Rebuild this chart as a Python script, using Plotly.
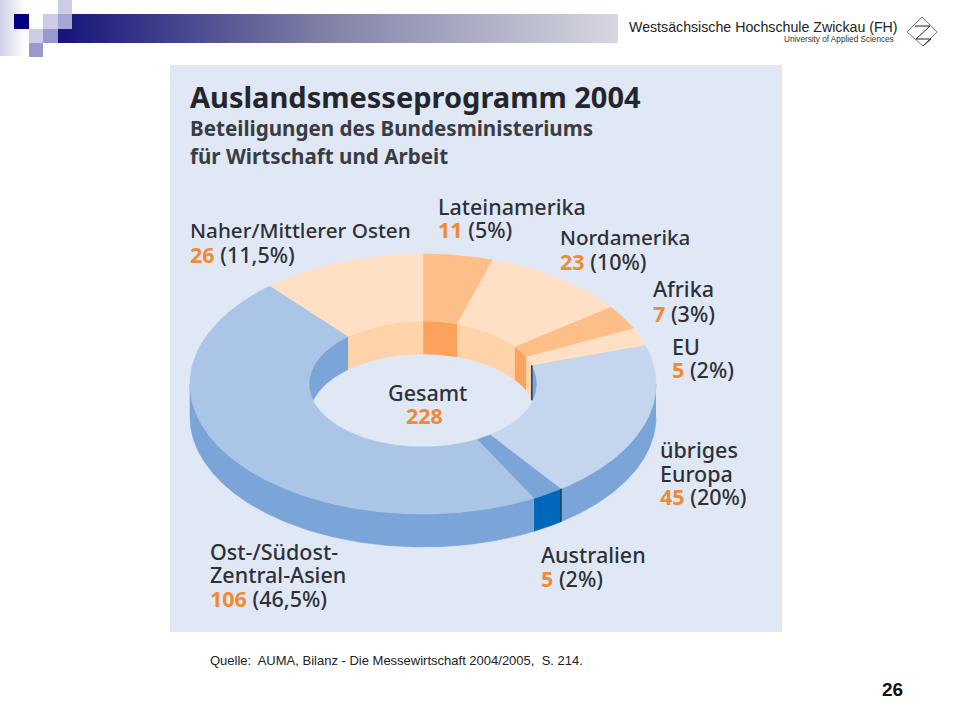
import numpy as np
import plotly.graph_objects as go

# ---- data ----
categories = ["Lateinamerika", "Nordamerika", "Afrika", "EU", "übriges Europa",
              "Australien", "Ost-/Südost-Zentral-Asien", "Naher/Mittlerer Osten"]
values = [11, 23, 7, 5, 45, 5, 106, 26]
percents = ["5%", "10%", "3%", "2%", "20%", "2%", "46,5%", "11,5%"]
total = 228
top_colors = ["#FDBE88", "#FFE0C4", "#FDBE88", "#FFE0C4", "#C5D5EE", "#7BA5D8", "#ABC5E6", "#FFE0C4"]
wall_colors = ["#FBA25C", "#FFD3AA", "#FBA25C", "#FFD3AA", "#7BA5D8", "#0068B8", "#7BA5D8", "#FFD3AA"]

# ---- geometry of the drawing ----
CX, CY, RX, RY = 423, 384, 233, 130
IRX, IRY = 114, 63
DEPTH = 33
PANEL = "#E0E8F5"
DARK = "#2E3038"
ORANGE = "#EF8A35"
FONT = "Noto Sans"

fig = go.Figure()


def poly(x, y, color, lw=0.6, name=None):
    fig.add_trace(go.Scatter(x=x, y=y, mode="lines", fill="toself", fillcolor=color,
                             line=dict(color=color, width=lw), hoverinfo="skip",
                             showlegend=False, name=name))


def arc(rx, ry, a0, a1, dy=0):
    t = np.radians(np.linspace(a0, a1, max(int(abs(a1 - a0)) * 2, 2) + 1))
    return CX + rx * np.sin(t), CY + dy - ry * np.cos(t)


angles = np.cumsum([0] + values) / sum(values) * 360

# outer side wall (front half only)
for i, name in enumerate(categories):
    a0, a1 = max(angles[i], 90), min(angles[i + 1], 270)
    if a1 > a0:
        x0, y0 = arc(RX, RY, a0, a1)
        x1, y1 = arc(RX, RY, a1, a0, DEPTH)
        poly(np.r_[x0, x1], np.r_[y0, y1], wall_colors[i], name=name)

# inner wall (far half of the hole only)
for i, name in enumerate(categories):
    for lo, hi in ((0, 90), (270, 360)):
        a0, a1 = max(angles[i], lo), min(angles[i + 1], hi)
        if a1 > a0:
            x0, y0 = arc(IRX, IRY, a0, a1)
            x1, y1 = arc(IRX, IRY, a1, a0, DEPTH)
            poly(np.r_[x0, x1], np.r_[y0, y1], wall_colors[i], name=name)

# top face
for i, name in enumerate(categories):
    x0, y0 = arc(RX, RY, angles[i], angles[i + 1])
    x1, y1 = arc(IRX, IRY, angles[i + 1], angles[i])
    poly(np.r_[x0, x1], np.r_[y0, y1], top_colors[i], name=name)

# dark seams at the start of "übriges Europa" wall / end of it on the outer wall
edge = np.radians(angles[5])
ex, ey = CX + RX * np.sin(edge), CY - RY * np.cos(edge)
fig.add_trace(go.Scatter(x=[ex, ex], y=[ey, ey + DEPTH], mode="lines",
                         line=dict(color="#1F3A55", width=1.5), hoverinfo="skip", showlegend=False))
edge = np.radians(angles[4])
ex, ey = CX + IRX * np.sin(edge), CY - IRY * np.cos(edge)
fig.add_trace(go.Scatter(x=[ex, ex], y=[ey, ey + DEPTH + 2], mode="lines",
                         line=dict(color="#1F3A55", width=1.5), hoverinfo="skip", showlegend=False))

# header gradient bar
fig.add_trace(go.Scatter(x=[58, 618, 618, 58, 58], y=[14, 14, 43, 43, 14], mode="lines", fill="toself",
                         line=dict(width=0), hoverinfo="skip", showlegend=False,
                         fillgradient=dict(type="horizontal",
                                           colorscale=[[0, "#14147A"], [0.47, "#7F7FA6"], [1, "#D6D7E0"]])))
# left fade
fig.add_trace(go.Scatter(x=[0, 26, 26, 0, 0], y=[0, 0, 56, 56, 0], mode="lines", fill="toself",
                         line=dict(width=0), hoverinfo="skip", showlegend=False,
                         fillgradient=dict(type="horizontal",
                                           colorscale=[[0, "#CFD1E8"], [1, "#FFFFFF"]])))


def rect(x0, y0, x1, y1, color, layer="below"):
    return dict(type="rect", x0=x0, y0=y0, x1=x1, y1=y1, fillcolor=color,
                line=dict(width=0), layer=layer, xref="x", yref="y")


shapes = [
    rect(170, 65, 782, 632, PANEL),
    rect(14, 14, 29, 29, "#000080", "above"),
    rect(43, 14, 58, 29, "#CCCCE6", "above"),
    rect(58, 0, 72, 14, "#CCCCE6", "above"),
    rect(58, 14, 72, 29, "#A6A6D2", "above"),
    rect(29, 29, 43, 43, "#CCCCE6", "above"),
    rect(43, 29, 58, 43, "#9999CC", "above"),
    rect(29, 43, 43, 57, "#9999CC", "above"),
    dict(type="path", path="M 922 17 L 937 32 L 923 46 L 907 32 Z",
         line=dict(color="#777777", width=1), xref="x", yref="y"),
    dict(type="path", path="M 915 26 L 930 26 L 916 39 L 931 39 L 923 46",
         line=dict(color="#222222", width=1), xref="x", yref="y"),
]

ann = []


def text(x, y, s, size, color=DARK, bold=False, anchor="left", family=FONT, weight=None):
    font = dict(family=family, size=size, color=color)
    if weight:
        font["weight"] = weight
    # annotations keep a 2 px inner padding
    px = x - 2 if anchor == "left" else x + 2 if anchor == "right" else x
    ann.append(dict(x=px, y=y, xref="x", yref="y", text=f"<b>{s}</b>" if bold else s, showarrow=False,
                    xanchor=anchor, yanchor="middle", align=anchor, font=font))


def val(i):
    return (f'<span style="color:{ORANGE}"><b>{values[i]}</b></span> '
            f'<span style="color:{DARK}">({percents[i]})</span>')


LS = 21.5
W = 500
text(190, 96, "Auslandsmesseprogramm 2004", 29, "#25252C", True)
text(190, 128, "Beteiligungen des Bundesministeriums", 20.6, "#3A3C44", True)
text(190, 156, "für Wirtschaft und Arbeit", 20.6, "#3A3C44", True)

text(190, 230, categories[7], 20.7, weight=W)
text(190, 254, val(7), LS, weight=W)
text(438, 206, categories[0], LS, weight=W)
text(438, 229, val(0), LS, weight=W)
text(560, 237, categories[1], 20.6, weight=W)
text(560, 261, val(1), LS, weight=W)
text(653, 288, categories[2], LS, weight=W)
text(653, 313, val(2), LS, weight=W)
text(672, 346, categories[3], LS, weight=W)
text(672, 369, val(3), LS, weight=W)
text(660, 449, "übriges", LS, weight=W)
text(660, 473, "Europa", LS, weight=W)
text(660, 496, val(4), LS, weight=W)
text(541, 554, categories[5], LS, weight=W)
text(541, 578, val(5), LS, weight=W)
text(210, 551, "Ost-/Südost-", LS, weight=W)
text(210, 574, "Zentral-Asien", LS, weight=W)
text(210, 598, val(6), LS, weight=W)
text(427, 392, "Gesamt", LS, anchor="center", weight=W)
text(424, 415, str(total), LS, ORANGE, True, anchor="center")

text(210, 660, "Quelle:  AUMA, Bilanz - Die Messewirtschaft 2004/2005,  S. 214.", 13, "#222222", family="Liberation Sans")
text(892, 689, "26", 19, "#111111", True, anchor="center", family="Liberation Sans")
text(629, 27, "Westsächsische Hochschule Zwickau (FH)", 14.2, "#222222", family="Liberation Sans")
text(894, 39, "University of Applied Sciences", 8.2, "#333333", anchor="right", family="Liberation Sans")

fig.update_layout(
    width=960, height=720, margin=dict(l=0, r=0, t=0, b=0),
    paper_bgcolor="white", plot_bgcolor="white", showlegend=False,
    xaxis=dict(range=[0, 960], visible=False, fixedrange=True),
    yaxis=dict(range=[720, 0], visible=False, fixedrange=True),
    shapes=shapes, annotations=ann,
)
fig.write_html("out.html", config={"displayModeBar": False},
               post_script="document.body.style.margin='0';document.body.style.overflow='hidden';")
